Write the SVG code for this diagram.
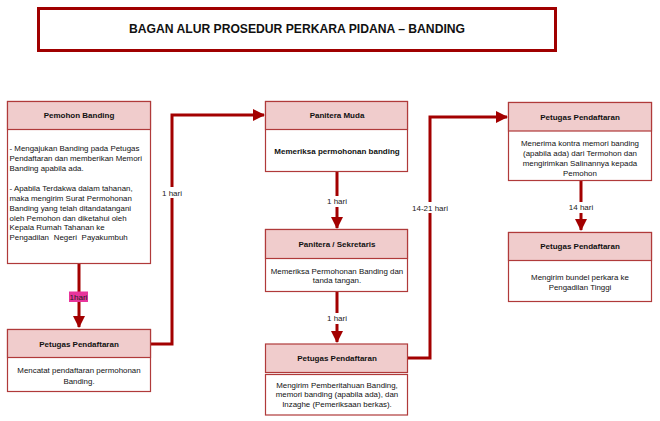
<svg xmlns="http://www.w3.org/2000/svg" width="660" height="421" viewBox="0 0 660 421">
<defs>
<style>
.box{fill:#ffffff;stroke:#b03a3a;stroke-width:1.2}
.hdr{fill:#f0cccc;stroke:#b03a3a;stroke-width:1.2}
.ht{font-family:"Liberation Sans",Arial,sans-serif;font-size:8px;font-weight:bold;fill:#111;text-anchor:middle}
.bt{font-family:"Liberation Sans",Arial,sans-serif;font-size:7.9px;fill:#111}
.c{text-anchor:middle}
.conn{fill:none;stroke:#a30000;stroke-width:3}
.lbl{font-family:"Liberation Sans",Arial,sans-serif;font-size:8px;fill:#222;text-anchor:middle}
</style>
<marker id="ah" markerUnits="userSpaceOnUse" markerWidth="12" markerHeight="12" viewBox="0 0 12 12" refX="11" refY="6" orient="auto">
<path d="M0,0 L12,6 L0,12 Z" fill="#a30000"/>
</marker>
</defs>
<rect width="660" height="421" fill="#ffffff"/>
<g id="title">
<rect x="38.5" y="8.5" width="517" height="42" fill="#ffffff" stroke="#a00000" stroke-width="3"/>
<text x="297" y="33" font-family="Liberation Sans,Arial,sans-serif" font-size="13" font-weight="bold" fill="#111" text-anchor="middle" textLength="336" lengthAdjust="spacingAndGlyphs">BAGAN ALUR PROSEDUR PERKARA PIDANA – BANDING</text>
</g>
<g id="connectors">
<path class="conn" d="M79,264 V327" marker-end="url(#ah)"/>
<path class="conn" d="M151,344 H172 V115 H264" marker-end="url(#ah)"/>
<path class="conn" d="M337,172 V228" marker-end="url(#ah)"/>
<path class="conn" d="M337,292 V342" marker-end="url(#ah)"/>
<path class="conn" d="M408,358 H430 V117 H507" marker-end="url(#ah)"/>
<path class="conn" d="M581,181 V230" marker-end="url(#ah)"/>
<rect x="69" y="291.5" width="19" height="10.5" fill="#e8359c"/>
<text class="lbl" x="78.5" y="300">1hari</text>
<rect x="161" y="187" width="22" height="11" fill="#ffffff"/>
<text class="lbl" x="172" y="195.5">1 hari</text>
<rect x="326" y="196" width="22" height="11" fill="#ffffff"/>
<text class="lbl" x="337" y="204">1 hari</text>
<rect x="326" y="313" width="22" height="11" fill="#ffffff"/>
<text class="lbl" x="337" y="321">1 hari</text>
<rect x="411" y="202" width="38" height="11" fill="#ffffff"/>
<text class="lbl" x="430" y="210.5">14-21 hari</text>
<rect x="568" y="202" width="27" height="11" fill="#ffffff"/>
<text class="lbl" x="581" y="210">14 hari</text>
</g>
<g id="pemohon-banding">
<rect class="box" x="7.5" y="101.5" width="143" height="162"/>
<rect class="hdr" x="7.5" y="101.5" width="143" height="28"/>
<text class="ht" x="79" y="118">Pemohon Banding</text>
<text class="bt" x="9.5" y="151">- Mengajukan Banding pada Petugas</text>
<text class="bt" x="9.5" y="161">Pendaftaran dan memberikan Memori</text>
<text class="bt" x="9.5" y="171">Banding apabila ada.</text>
<text class="bt" x="9.5" y="191">- Apabila Terdakwa dalam tahanan,</text>
<text class="bt" x="9.5" y="201">maka mengirim Surat Permohonan</text>
<text class="bt" x="9.5" y="211">Banding yang telah ditandatangani</text>
<text class="bt" x="9.5" y="220.5">oleh Pemohon dan diketahui oleh</text>
<text class="bt" x="9.5" y="230">Kepala Rumah Tahanan ke</text>
<text class="bt" x="9.5" y="239.5" word-spacing="2.5">Pengadilan Negeri Payakumbuh</text>
</g>
<g id="petugas-pendaftaran-1">
<rect class="box" x="7.5" y="329.5" width="143" height="62"/>
<rect class="hdr" x="7.5" y="329.5" width="143" height="28"/>
<text class="ht" x="79" y="346.5">Petugas Pendaftaran</text>
<text class="bt c" x="79" y="373">Mencatat pendaftaran permohonan</text>
<text class="bt c" x="79" y="384">Banding.</text>
</g>
<g id="panitera-muda">
<rect class="box" x="265.5" y="101.5" width="142" height="70"/>
<rect class="hdr" x="265.5" y="101.5" width="142" height="28"/>
<text class="ht" x="337" y="118">Panitera Muda</text>
<text class="ht" x="337" y="154">Memeriksa permohonan banding</text>
</g>
<g id="panitera-sekretaris">
<rect class="box" x="265.5" y="229.5" width="142" height="62"/>
<rect class="hdr" x="265.5" y="229.5" width="142" height="29"/>
<text class="ht" x="337" y="247">Panitera / Sekretaris</text>
<text class="bt c" x="337" y="273.5">Memeriksa Permohonan Banding dan</text>
<text class="bt c" x="337" y="283">tanda tangan.</text>
</g>
<g id="petugas-pendaftaran-2">
<rect class="hdr" x="265.5" y="344" width="142" height="28.5"/>
<text class="ht" x="337" y="361">Petugas Pendaftaran</text>
<rect class="box" x="265.5" y="374.5" width="142" height="40.5"/>
<text class="bt c" x="337" y="387.5">Mengirim Pemberitahuan Banding,</text>
<text class="bt c" x="337" y="397">memori banding (apabila ada), dan</text>
<text class="bt c" x="337" y="406.5">Inzaghe (Pemeriksaan berkas).</text>
</g>
<g id="petugas-pendaftaran-3">
<rect class="box" x="508.5" y="102.5" width="143" height="78"/>
<rect class="hdr" x="508.5" y="102.5" width="143" height="28.5"/>
<text class="ht" x="580" y="119.5">Petugas Pendaftaran</text>
<text class="bt c" x="580" y="145.5">Menerima kontra memori banding</text>
<text class="bt c" x="580" y="156">(apabila ada) dari Termohon dan</text>
<text class="bt c" x="580" y="166">mengirimkan Salinannya kepada</text>
<text class="bt c" x="580" y="175.5">Pemohon</text>
</g>
<g id="petugas-pendaftaran-4">
<rect class="box" x="508.5" y="232.5" width="143" height="69"/>
<rect class="hdr" x="508.5" y="232.5" width="143" height="28"/>
<text class="ht" x="580" y="249">Petugas Pendaftaran</text>
<text class="bt c" x="580" y="279.5">Mengirim bundel perkara ke</text>
<text class="bt c" x="580" y="289.5">Pengadilan Tinggi</text>
</g>
</svg>
